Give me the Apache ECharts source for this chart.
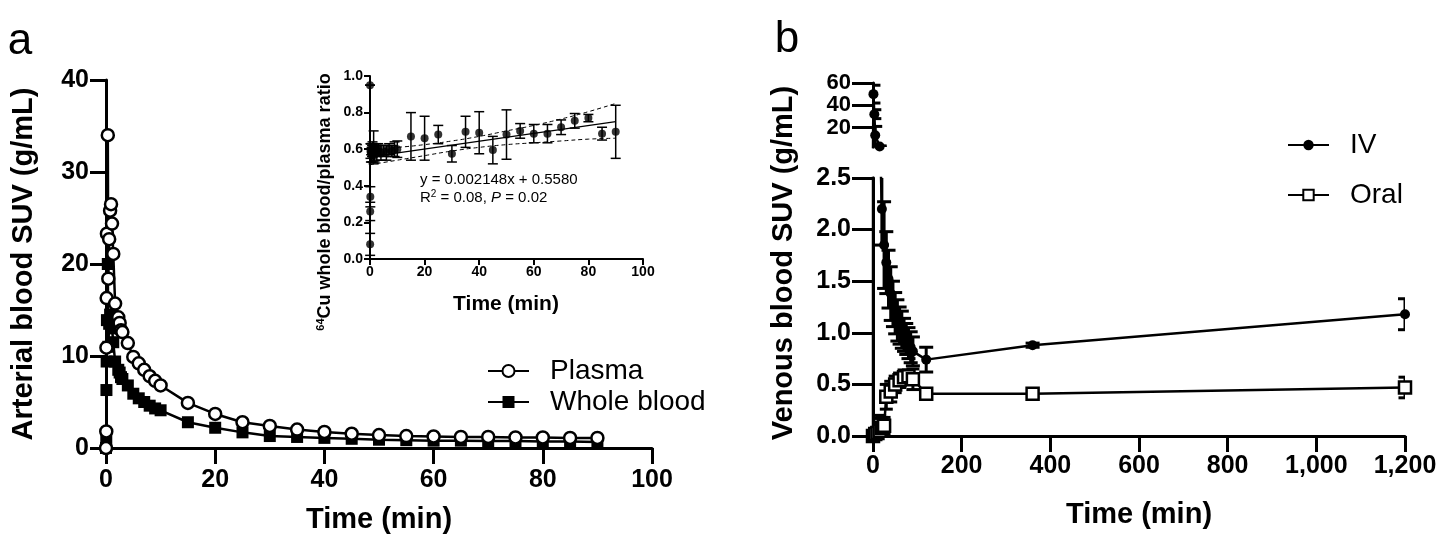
<!DOCTYPE html>
<html><head><meta charset="utf-8">
<script src="https://cdn.jsdelivr.net/npm/echarts@6/dist/echarts.min.js"></script>
<style>html,body{margin:0;padding:0;background:#fff}#c{width:1440px;height:547px}</style>
</head><body><div id="c"></div>
<script>
const FONT = 'Liberation Sans, Arial, Helvetica, sans-serif';

// ---------- Panel a : arterial blood ----------
const aTime = [0, 0.05, 0.08, 0.12, 0.17, 0.33, 0.42, 0.58, 0.75, 0.92, 1.1, 1.33, 1.67, 2.25, 2.5, 2.75, 3, 4, 5, 6, 7, 8, 9, 10, 15, 20, 25, 30, 35, 40, 45, 50, 55, 60, 65, 70, 75, 80, 85, 90];
const aPlasma = [0, 1.8, 10.9, 16.3, 23.3, 34.0, 18.4, 22.7, 25.8, 26.5, 24.4, 21.1, 15.7, 14.2, 13.6, 12.8, 12.6, 11.4, 9.9, 9.2, 8.5, 7.8, 7.3, 6.8, 4.9, 3.7, 2.8, 2.4, 2.0, 1.75, 1.55, 1.4, 1.3, 1.25, 1.2, 1.2, 1.15, 1.15, 1.1, 1.1];
const aWhole = [0, 1.0, 6.3, 9.4, 13.9, 20.0, 11.0, 13.5, 14.5, 14.0, 13.0, 11.5, 9.4, 8.5, 8.2, 7.7, 7.5, 6.8, 5.9, 5.4, 5.0, 4.6, 4.3, 4.1, 2.8, 2.2, 1.7, 1.3, 1.2, 1.1, 1.0, 0.9, 0.85, 0.8, 0.8, 0.75, 0.75, 0.7, 0.7, 0.65];
const aXTicks = [0, 20, 40, 60, 80, 100];
const aYTicks = [0, 10, 20, 30, 40];

// ---------- Inset : whole blood / plasma ratio ----------
const insetTime = aTime;
const insetRatio = [0.95, 0.08, 0.26, 0.34, 0.59, 0.58, 0.60, 0.57, 0.59, 0.60, 0.58, 0.61, 0.57, 0.60, 0.58, 0.59, 0.60, 0.58, 0.59, 0.58, 0.60, 0.59, 0.60, 0.60, 0.67, 0.66, 0.68, 0.575, 0.695, 0.69, 0.595, 0.68, 0.70, 0.685, 0.685, 0.72, 0.755, 0.77, 0.685, 0.695];
const insetErr = [0, 0.06, 0.05, 0.055, 0.04, 0.05, 0.03, 0.04, 0.03, 0.04, 0.05, 0.09, 0.04, 0.03, 0.04, 0.03, 0.03, 0.04, 0.03, 0.04, 0.03, 0.03, 0.04, 0.045, 0.13, 0.12, 0.05, 0.045, 0.085, 0.115, 0.075, 0.135, 0.04, 0.05, 0.05, 0.04, 0.04, 0.02, 0.035, 0.145];
const fitX = [0, 90];
const fitY = [0.558, 0.751];
const bandX = [0, 10, 20, 30, 40, 50, 60, 70, 80, 90];
const bandUpper = [0.60, 0.61, 0.625, 0.645, 0.67, 0.70, 0.73, 0.765, 0.805, 0.85];
const bandLower = [0.515, 0.54, 0.565, 0.59, 0.61, 0.625, 0.635, 0.645, 0.655, 0.66];
const insetXTicks = [0, 20, 40, 60, 80, 100];
const insetYTicks = [0, 0.2, 0.4, 0.6, 0.8, 1.0];

// ---------- Panel b : venous blood ----------
const ivTime = [0, 1, 3, 5, 15, 20, 25, 30, 35, 40, 45, 50, 55, 60, 65, 70, 75, 80, 85, 90, 120, 360, 1200];
const ivMean = [0.05, 50, 32, 13, 3, 2.2, 1.85, 1.68, 1.52, 1.38, 1.28, 1.19, 1.12, 1.07, 1.03, 0.98, 0.94, 0.9, 0.86, 0.82, 0.74, 0.88, 1.18];
const ivSD = [0.12, 8, 4, 8, 0.5, 0.35, 0.42, 0.3, 0.28, 0.26, 0.22, 0.2, 0.2, 0.18, 0.18, 0.16, 0.15, 0.15, 0.15, 0.14, 0.12, 0.02, 0.15];
const oralTime = [0, 5, 10, 15, 20, 25, 30, 40, 50, 60, 70, 80, 90, 120, 360, 1200];
const oralMean = [0.0, 0.02, 0.03, 0.05, 0.08, 0.1, 0.38, 0.43, 0.5, 0.54, 0.57, 0.58, 0.55, 0.41, 0.41, 0.47];
const oralSD = [0.03, 0.05, 0.1, 0.15, 0.1, 0.08, 0.12, 0.1, 0.08, 0.07, 0.07, 0.06, 0.1, 0.03, 0.04, 0.1];
const bXTicks = [0, 200, 400, 600, 800, 1000, 1200];
const bXLabels = ['0', '200', '400', '600', '800', '1,000', '1,200'];
const bYLowTicks = [0, 0.5, 1.0, 1.5, 2.0, 2.5];
const bYLowLabels = ['0.0', '0.5', '1.0', '1.5', '2.0', '2.5'];
const bYHighTicks = [20, 40, 60];
const BREAK = 2.5;

// ---------- helpers ----------
const pairs = (xs, ys) => xs.map((x, i) => [x, ys[i]]);
const bars = (xs, ys, es) => xs.map((x, i) => [x, ys[i] - es[i], ys[i] + es[i]]);
function errRender(capW, lw) {
  return function (params, api) {
    const x = api.value(0), lo = api.value(1), hi = api.value(2);
    const a = api.coord([x, lo]), b = api.coord([x, hi]);
    const st = { stroke: '#000', lineWidth: lw };
    return { type: 'group', children: [
      { type: 'line', shape: { x1: a[0], y1: a[1], x2: b[0], y2: b[1] }, style: st },
      { type: 'line', shape: { x1: a[0] - capW / 2, y1: a[1], x2: a[0] + capW / 2, y2: a[1] }, style: st },
      { type: 'line', shape: { x1: b[0] - capW / 2, y1: b[1], x2: b[0] + capW / 2, y2: b[1] }, style: st }
    ] };
  };
}
function ax(lw, tickLen, fontSize, margin) {
  return {
    axisLine: { show: true, onZero: false, lineStyle: { color: '#000', width: lw } },
    axisTick: { show: true, inside: false, length: tickLen, lineStyle: { color: '#000', width: lw } },
    axisLabel: { color: '#000', fontFamily: FONT, fontWeight: 'bold', fontSize: fontSize, margin: margin, hideOverlap: false },
    splitLine: { show: false }
  };
}
function merge(base, extra) {
  const o = JSON.parse(JSON.stringify(base));
  for (const k in extra) {
    if (o[k] && typeof o[k] === 'object' && typeof extra[k] === 'object' && !Array.isArray(extra[k])) Object.assign(o[k], extra[k]);
    else o[k] = extra[k];
  }
  return o;
}

// upper broken-axis segment: only the points above the break plus their direct neighbours
const ivHighLine = ivTime.map((t, i) => {
  const above = ivMean[i] > BREAK;
  const near = (i > 0 && ivMean[i - 1] > BREAK) || (i + 1 < ivTime.length && ivMean[i + 1] > BREAK);
  if (above) return [t, ivMean[i]];
  if (near) return { value: [t, ivMean[i]], symbol: 'none' };
  return null;
}).filter(d => d !== null);
const ivLowBars = bars(ivTime, ivMean, ivSD).filter((d, i) => ivMean[i] <= BREAK);
const ivHighBars = bars(ivTime, ivMean, ivSD).filter((d, i) => ivMean[i] > BREAK);

const chart = echarts.init(document.getElementById('c'), null, { renderer: 'canvas' });
const option = {
  animation: false,
  backgroundColor: '#fff',
  textStyle: { fontFamily: FONT },
  grid: [
    { left: 106, top: 80, width: 546, height: 368 },
    { left: 370, top: 76, width: 273, height: 183 },
    { left: 873, top: 83, width: 532, height: 64 },
    { left: 873, top: 178, width: 532, height: 258 }
  ],
  xAxis: [
    merge(ax(3, 16, 25, 20), { type: 'value', gridIndex: 0, min: aXTicks[0], max: aXTicks[aXTicks.length - 1], interval: 20 }),
    merge(ax(2, 6, 14, 6), { type: 'value', gridIndex: 1, min: insetXTicks[0], max: insetXTicks[insetXTicks.length - 1], interval: 20 }),
    { type: 'value', gridIndex: 2, min: 0, max: 1200, show: false },
    merge(ax(3, 16, 25, 18), { type: 'value', gridIndex: 3, min: bXTicks[0], max: bXTicks[bXTicks.length - 1], interval: 200 })
  ],
  yAxis: [
    merge(ax(3, 16, 25, 17), { type: 'value', gridIndex: 0, min: aYTicks[0], max: aYTicks[aYTicks.length - 1], interval: 10 }),
    merge(ax(2, 6, 14, 7), { type: 'value', gridIndex: 1, min: 0, max: 1.0, interval: 0.2 }),
    merge(ax(3, 21, 22, 22), { type: 'value', gridIndex: 2, min: BREAK, max: 60 }),
    merge(ax(3, 21, 25, 22), { type: 'value', gridIndex: 3, min: bYLowTicks[0], max: BREAK, interval: 0.5 })
  ],
  legend: [
    { data: ['Plasma', 'Whole blood'], orient: 'vertical', left: 487, top: 356, padding: 0,
      itemWidth: 41, itemHeight: 15, itemGap: 1,
      textStyle: { fontFamily: FONT, fontSize: 28, color: '#000', lineHeight: 30, padding: [0, 0, 0, 16] } },
    { data: ['IV', 'Oral'], orient: 'vertical', left: 1287, top: 130, padding: 0,
      itemWidth: 41, itemHeight: 13, itemGap: 20,
      textStyle: { fontFamily: FONT, fontSize: 28, color: '#000', lineHeight: 30, padding: [0, 0, 0, 16] } }
  ],
  series: [
    { name: 'Whole blood', type: 'line', xAxisIndex: 0, yAxisIndex: 0, data: pairs(aTime, aWhole),
      symbol: 'rect', symbolSize: 12, itemStyle: { color: '#000' }, lineStyle: { color: '#000', width: 2.5 }, z: 3 },
    { name: 'Plasma', type: 'line', xAxisIndex: 0, yAxisIndex: 0, data: pairs(aTime, aPlasma),
      symbol: 'circle', symbolSize: 12, itemStyle: { color: '#fff', borderColor: '#000', borderWidth: 2.5 },
      lineStyle: { color: '#000', width: 2.5 }, z: 4 },

    { type: 'custom', xAxisIndex: 1, yAxisIndex: 1, renderItem: errRender(10, 1.5), silent: true,
      data: bars(insetTime, insetRatio, insetErr), encode: { x: 0, y: [1, 2] }, z: 5 },
    { type: 'line', xAxisIndex: 1, yAxisIndex: 1, data: pairs(fitX, fitY), symbol: 'none',
      lineStyle: { color: '#000', width: 1.2 }, z: 5, silent: true },
    { type: 'line', xAxisIndex: 1, yAxisIndex: 1, data: pairs(bandX, bandUpper), symbol: 'none', smooth: true,
      lineStyle: { color: '#000', width: 1, type: [4, 3] }, z: 5, silent: true },
    { type: 'line', xAxisIndex: 1, yAxisIndex: 1, data: pairs(bandX, bandLower), symbol: 'none', smooth: true,
      lineStyle: { color: '#000', width: 1, type: [4, 3] }, z: 5, silent: true },
    { type: 'scatter', xAxisIndex: 1, yAxisIndex: 1, data: pairs(insetTime, insetRatio),
      symbol: 'circle', symbolSize: 8, itemStyle: { color: '#000' }, z: 6 },

    { type: 'custom', xAxisIndex: 2, yAxisIndex: 2, renderItem: errRender(14, 3), silent: true, clip: true,
      data: ivHighBars, encode: { x: 0, y: [1, 2] }, z: 3 },
    { type: 'custom', xAxisIndex: 3, yAxisIndex: 3, renderItem: errRender(14, 3), silent: true, clip: true,
      data: ivLowBars, encode: { x: 0, y: [1, 2] }, z: 3 },
    { type: 'custom', xAxisIndex: 3, yAxisIndex: 3, renderItem: errRender(13, 3), silent: true, clip: true,
      data: bars(oralTime, oralMean, oralSD), encode: { x: 0, y: [1, 2] }, z: 5 },
    { name: 'IV', type: 'line', xAxisIndex: 2, yAxisIndex: 2, data: ivHighLine, clip: true,
      symbol: 'circle', symbolSize: 10, itemStyle: { color: '#000' }, lineStyle: { color: '#000', width: 2.5 }, z: 4 },
    { name: 'IV', type: 'line', xAxisIndex: 3, yAxisIndex: 3, data: pairs(ivTime, ivMean), clip: true,
      symbol: 'circle', symbolSize: 10, itemStyle: { color: '#000' }, lineStyle: { color: '#000', width: 2.5 }, z: 4 },
    { name: 'Oral', type: 'line', xAxisIndex: 3, yAxisIndex: 3, data: pairs(oralTime, oralMean), clip: true,
      symbol: 'rect', symbolSize: 12, itemStyle: { color: '#fff', borderColor: '#000', borderWidth: 2.5 },
      lineStyle: { color: '#000', width: 2.5 }, z: 6 }
  ],
  graphic: [
    { type: 'text', x: 20, y: 42, style: { text: 'a', font: '44px ' + FONT, fill: '#000', align: 'center', verticalAlign: 'middle' } },
    { type: 'text', x: 787, y: 40, style: { text: 'b', font: '44px ' + FONT, fill: '#000', align: 'center', verticalAlign: 'middle' } },
    { type: 'text', x: 24, y: 264, rotation: Math.PI / 2, style: { text: 'Arterial blood SUV (g/mL)', font: 'bold 29px ' + FONT, fill: '#000', align: 'center', verticalAlign: 'middle' } },
    { type: 'text', x: 784, y: 263, rotation: Math.PI / 2, style: { text: 'Venous blood SUV (g/mL)', font: 'bold 29px ' + FONT, fill: '#000', align: 'center', verticalAlign: 'middle' } },
    { type: 'text', x: 379, y: 520, style: { text: 'Time (min)', font: 'bold 29px ' + FONT, fill: '#000', align: 'center', verticalAlign: 'middle' } },
    { type: 'text', x: 1139, y: 515, style: { text: 'Time (min)', font: 'bold 29px ' + FONT, fill: '#000', align: 'center', verticalAlign: 'middle' } },
    { type: 'text', x: 506, y: 304, style: { text: 'Time (min)', font: 'bold 21px ' + FONT, fill: '#000', align: 'center', verticalAlign: 'middle' } },
    { type: 'text', x: 325, y: 202, rotation: Math.PI / 2, style: {
      text: '{s|64}{n|Cu whole blood/plasma ratio}', align: 'center', verticalAlign: 'middle', fill: '#000',
      rich: { s: { font: 'bold 11px ' + FONT, fill: '#000', verticalAlign: 'top', lineHeight: 20 },
              n: { font: 'bold 18px ' + FONT, fill: '#000', lineHeight: 20 } } } },
    { type: 'text', x: 420, y: 180, style: { text: 'y = 0.002148x + 0.5580', font: '15px ' + FONT, fill: '#000', align: 'left', verticalAlign: 'middle' } },
    { type: 'text', x: 420, y: 198, style: {
      text: '{n|R}{s|2}{n| = 0.08, }{i|P}{n| = 0.02}', align: 'left', verticalAlign: 'middle', fill: '#000',
      rich: { n: { font: '15px ' + FONT, fill: '#000', lineHeight: 18 },
              s: { font: '10px ' + FONT, fill: '#000', verticalAlign: 'top', lineHeight: 18 },
              i: { font: 'italic 15px ' + FONT, fill: '#000', lineHeight: 18 } } } }
  ]
};
option.xAxis[3].axisLabel.formatter = v => { const k = bXTicks.indexOf(v); return k >= 0 ? bXLabels[k] : ''; };
option.yAxis[1].axisLabel.formatter = v => v.toFixed(1);
option.yAxis[3].axisLabel.formatter = v => { const k = bYLowTicks.findIndex(t => Math.abs(t - v) < 1e-9); return k >= 0 ? bYLowLabels[k] : ''; };
Object.assign(option.yAxis[2].axisLabel, { customValues: bYHighTicks, lineHeight: 18, showMinLabel: true, showMaxLabel: true });
Object.assign(option.yAxis[2].axisTick, { customValues: bYHighTicks });
chart.setOption(option);
</script>
</body></html>
